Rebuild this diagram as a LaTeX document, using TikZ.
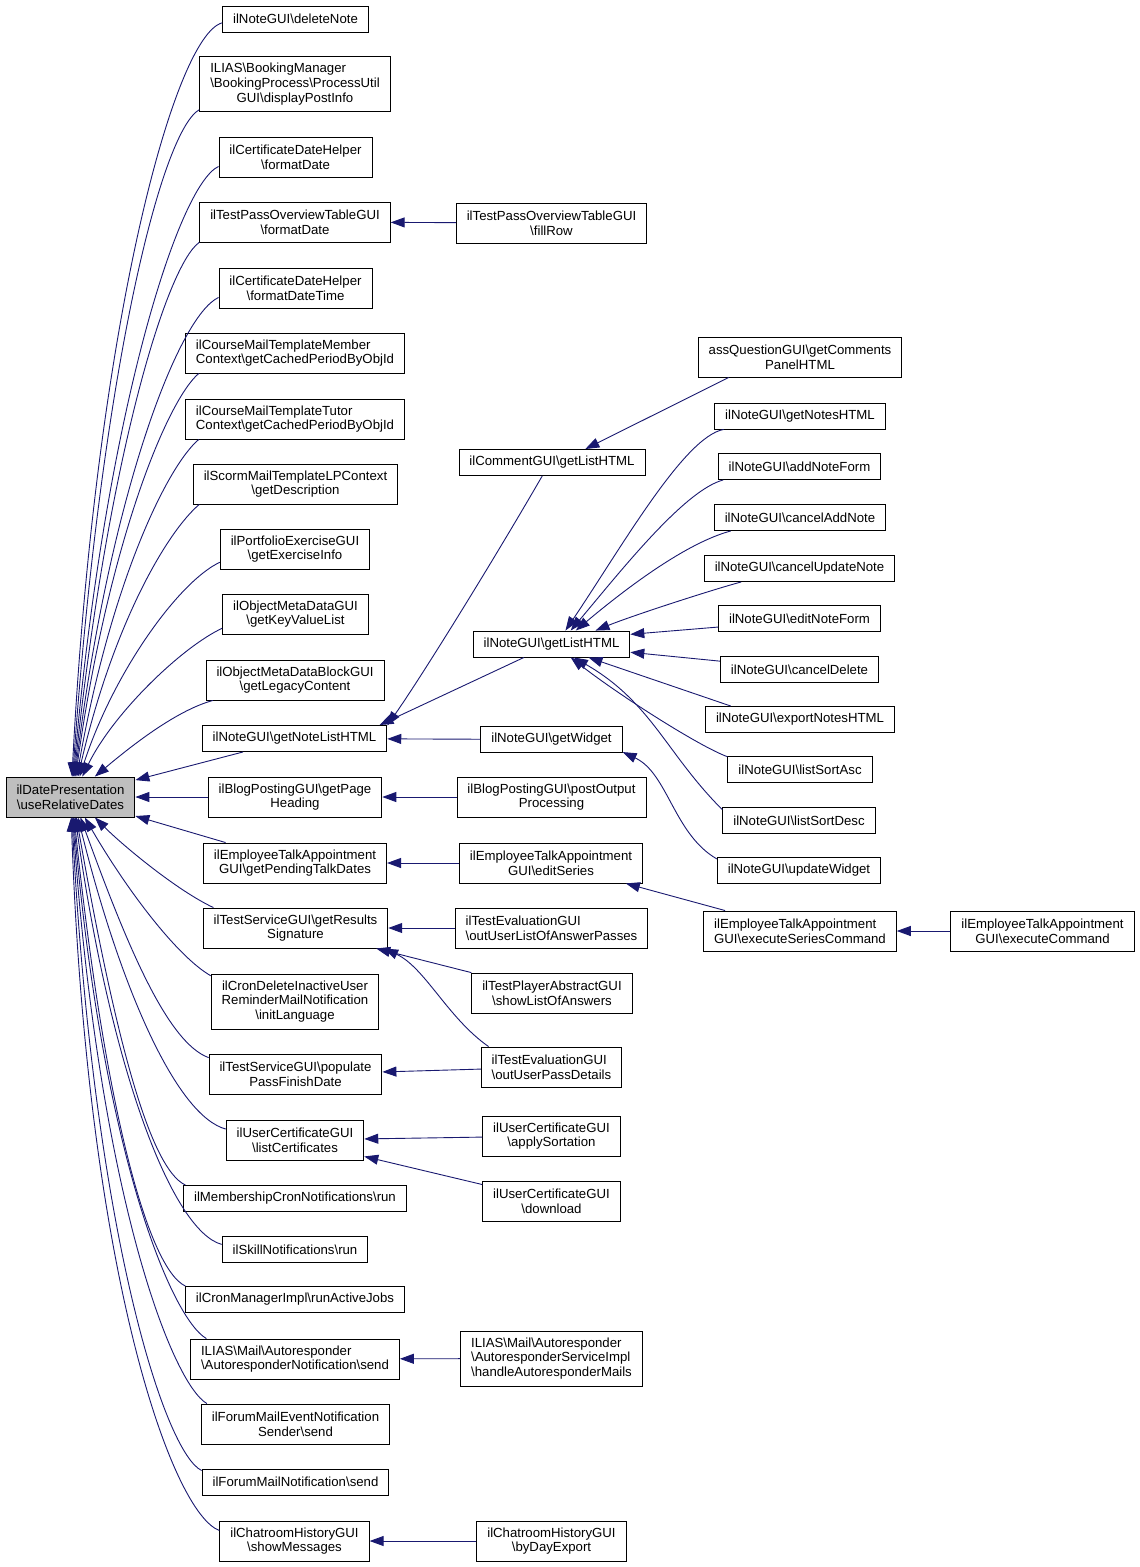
\documentclass[tikz,border=0pt]{standalone}
\usepackage{fontspec}
\setmainfont{Liberation Sans}
\usetikzlibrary{arrows.meta}
\definecolor{edgeblue}{HTML}{191970}
\definecolor{rootgray}{HTML}{BFBFBF}
\newcommand{\bsl}{\textbackslash}

\begin{document}
\begin{tikzpicture}[x=1pt, y=1pt,
    fn/.style={draw, line width=0.9pt, fill=white, align=center, inner xsep=10.5pt, inner ysep=2pt,
      minimum height=26pt, font=\fontsize{13.2}{14.6}\selectfont},
    fn2/.style={fn, minimum height=40pt},
    fn3/.style={fn, minimum height=55pt},
    call/.style={draw=edgeblue, line width=0.9pt, -{Triangle[length=14pt, width=10pt]}}]
    \useasboundingbox (0,0) rectangle (1140,-1567);

    % root
    \node[fn2, fill=rootgray] (root) at (70.5,-797) {ilDatePresentation\\\bsl useRelativeDates};

    % callers, column 2
    \node[fn] (deleteNote) at (295.5,-19) {ilNoteGUI\bsl deleteNote};
    \node[fn3] (displayPostInfo) at (295,-84) {\rlap{ILIAS\bsl BookingManager}\phantom{\bsl BookingProcess\bsl ProcessUtil}\\\bsl BookingProcess\bsl ProcessUtil\\GUI\bsl displayPostInfo};
    \node[fn2] (certDate) at (295.5,-157) {ilCertificateDateHelper\\\bsl formatDate};
    \node[fn2] (passDate) at (295,-222) {ilTestPassOverviewTableGUI\\\bsl formatDate};
    \node[fn2] (certDateTime) at (295.5,-288) {ilCertificateDateHelper\\\bsl formatDateTime};
    \node[fn2, align=left] (memberCtx) at (295,-353) {ilCourseMailTemplateMember\\Context\bsl getCachedPeriodByObjId};
    \node[fn2, align=left] (tutorCtx) at (295,-419) {ilCourseMailTemplateTutor\\Context\bsl getCachedPeriodByObjId};
    \node[fn2] (scormDesc) at (295.5,-484) {ilScormMailTemplateLPContext\\\bsl getDescription};
    \node[fn2] (exerciseInfo) at (295,-549) {ilPortfolioExerciseGUI\\\bsl getExerciseInfo};
    \node[fn2] (keyValue) at (295.5,-614) {ilObjectMetaDataGUI\\\bsl getKeyValueList};
    \node[fn2] (legacyContent) at (295,-680) {ilObjectMetaDataBlockGUI\\\bsl getLegacyContent};
    \node[fn] (noteListHTML) at (294.5,-738.5) {ilNoteGUI\bsl getNoteListHTML};
    \node[fn2] (pageHeading) at (295,-797) {ilBlogPostingGUI\bsl getPage\\Heading};
    \node[fn2] (pendingTalk) at (295,-863) {ilEmployeeTalkAppointment\\GUI\bsl getPendingTalkDates};
    \node[fn2] (resultsSig) at (295.5,-928) {ilTestServiceGUI\bsl getResults\\Signature};
    \node[fn3] (initLanguage) at (295,-1001.5) {ilCronDeleteInactiveUser\\ReminderMailNotification\\\bsl initLanguage};
    \node[fn2] (passFinish) at (295.5,-1074.5) {ilTestServiceGUI\bsl populate\\PassFinishDate};
    \node[fn2] (listCert) at (295,-1140) {ilUserCertificateGUI\\\bsl listCertificates};
    \node[fn] (membershipRun) at (295,-1198.5) {ilMembershipCronNotifications\bsl run};
    \node[fn] (skillRun) at (295,-1249.5) {ilSkillNotifications\bsl run};
    \node[fn] (activeJobs) at (295,-1299.5) {ilCronManagerImpl\bsl runActiveJobs};
    \node[fn2, align=left] (autoSend) at (295,-1359) {ILIAS\bsl Mail\bsl Autoresponder\\\bsl AutoresponderNotification\bsl send};
    \node[fn2] (eventSend) at (295.5,-1424) {ilForumMailEventNotification\\Sender\bsl send};
    \node[fn] (forumSend) at (295.5,-1482) {ilForumMailNotification\bsl send};
    \node[fn2] (showMessages) at (294.5,-1541) {ilChatroomHistoryGUI\\\bsl showMessages};

    % column 3
    \node[fn2] (fillRow) at (551.5,-223) {ilTestPassOverviewTableGUI\\\bsl fillRow};
    \node[fn] (commentList) at (552,-462.5) {ilCommentGUI\bsl getListHTML};
    \node[fn] (noteList) at (551.5,-644) {ilNoteGUI\bsl getListHTML};
    \node[fn] (getWidget) at (551.5,-739.5) {ilNoteGUI\bsl getWidget};
    \node[fn2] (postOutput) at (551.5,-797) {ilBlogPostingGUI\bsl postOutput\\Processing};
    \node[fn2] (editSeries) at (551,-863) {ilEmployeeTalkAppointment\\GUI\bsl editSeries};
    \node[fn2, align=left] (answerPasses) at (551.5,-928) {ilTestEvaluationGUI\\\bsl outUserListOfAnswerPasses};
    \node[fn2] (listOfAnswers) at (552,-993) {ilTestPlayerAbstractGUI\\\bsl showListOfAnswers};
    \node[fn2, align=left] (passDetails) at (551.5,-1067) {ilTestEvaluationGUI\\\bsl outUserPassDetails};
    \node[fn2] (applySortation) at (551.5,-1136) {ilUserCertificateGUI\\\bsl applySortation};
    \node[fn2] (download) at (551.5,-1201) {ilUserCertificateGUI\\\bsl download};
    \node[fn3, align=left] (handleMails) at (551.5,-1358.5) {ILIAS\bsl Mail\bsl Autoresponder\\\bsl AutoresponderServiceImpl\\\bsl handleAutoresponderMails};
    \node[fn2] (byDayExport) at (551.5,-1541) {ilChatroomHistoryGUI\\\bsl byDayExport};

    % column 4 and 5
    \node[fn2] (commentsPanel) at (800,-357) {assQuestionGUI\bsl getComments\\PanelHTML};
    \node[fn] (notesHTML) at (800,-416) {ilNoteGUI\bsl getNotesHTML};
    \node[fn] (addNoteForm) at (799.5,-466.5) {ilNoteGUI\bsl addNoteForm};
    \node[fn] (cancelAdd) at (800,-517.5) {ilNoteGUI\bsl cancelAddNote};
    \node[fn] (cancelUpdate) at (799.5,-568.5) {ilNoteGUI\bsl cancelUpdateNote};
    \node[fn] (editNoteForm) at (799.5,-618.5) {ilNoteGUI\bsl editNoteForm};
    \node[fn] (cancelDelete) at (799.5,-669.5) {ilNoteGUI\bsl cancelDelete};
    \node[fn] (exportNotes) at (800,-719.5) {ilNoteGUI\bsl exportNotesHTML};
    \node[fn] (sortAsc) at (800,-769.5) {ilNoteGUI\bsl listSortAsc};
    \node[fn] (sortDesc) at (799,-820.5) {ilNoteGUI\bsl listSortDesc};
    \node[fn] (updateWidget) at (799,-870.5) {ilNoteGUI\bsl updateWidget};
    \node[fn2, align=left] (seriesCommand) at (800,-931) {ilEmployeeTalkAppointment\\GUI\bsl executeSeriesCommand};
    \node[fn2] (executeCommand) at (1042.5,-931) {ilEmployeeTalkAppointment\\GUI\bsl executeCommand};

    % calls into the root, upper half
    \draw[call] (deleteNote.183) to[out=195, in=87, out distance=50pt, in distance=450pt] (root.86);
    \draw[call] (displayPostInfo.195) to[out=210, in=86, out distance=45pt, in distance=400pt] (root.84);
    \draw[call] (certDate.187) to[out=205, in=85, out distance=45pt, in distance=360pt] (root.82);
    \draw[call] (passDate.192) to[out=215, in=84, out distance=40pt, in distance=320pt] (root.80);
    \draw[call] (certDateTime.187) to[out=205, in=83, out distance=45pt, in distance=280pt] (root.78);
    \draw[call] (memberCtx.192) to[out=220, in=82, out distance=40pt, in distance=240pt] (root.76);
    \draw[call] (tutorCtx.192) to[out=220, in=80, out distance=40pt, in distance=200pt] (root.73);
    \draw[call] (scormDesc.192) to[out=220, in=77, out distance=40pt, in distance=160pt] (root.70);
    \draw[call] (exerciseInfo.190) to[out=205, in=72, out distance=45pt, in distance=110pt] (root.66);
    \draw[call] (keyValue.191) to[out=205, in=64, out distance=45pt, in distance=70pt] (root.60);
    \draw[call] (legacyContent.194) to[out=195, in=40, out distance=40pt, in distance=40pt] (root.40);
    \draw[call] (noteListHTML) -- (root);

    % calls into the root, lower half
    \draw[call] (pageHeading) -- (root);
    \draw[call] (pendingTalk) -- (root);
    \draw[call] (resultsSig.166) to[out=155, in=-45, out distance=40pt, in distance=40pt] (root.320);
    \draw[call] (initLanguage.163) to[out=150, in=-60, out distance=40pt, in distance=80pt] (root.305);
    \draw[call] (passFinish.169) to[out=160, in=-70, out distance=45pt, in distance=130pt] (root.296);
    \draw[call] (listCert.171) to[out=165, in=-76, out distance=50pt, in distance=180pt] (root.290);
    \draw[call] (membershipRun.173) to[out=155, in=-80, out distance=40pt, in distance=220pt] (root.286);
    \draw[call] (skillRun.176) to[out=165, in=-82, out distance=50pt, in distance=260pt] (root.283);
    \draw[call] (activeJobs.173) to[out=155, in=-84, out distance=40pt, in distance=300pt] (root.280);
    \draw[call] (autoSend.167) to[out=150, in=-85, out distance=40pt, in distance=340pt] (root.278);
    \draw[call] (eventSend.167) to[out=150, in=-86, out distance=40pt, in distance=380pt] (root.276);
    \draw[call] (forumSend.173) to[out=155, in=-87, out distance=40pt, in distance=420pt] (root.274);
    \draw[call] (showMessages.172) to[out=160, in=-88, out distance=50pt, in distance=460pt] (root.272);

    % column 3 into column 2
    \draw[call] (fillRow) -- (passDate);
    \draw[call] (commentList.234) to[out=240, in=55, out distance=100pt, in distance=60pt] (noteListHTML.8);
    \draw[call] (noteList.206) -- (noteListHTML.9);
    \draw[call] (getWidget) -- (noteListHTML);
    \draw[call] (postOutput) -- (pageHeading);
    \draw[call] (editSeries) -- (pendingTalk);
    \draw[call] (answerPasses) -- (resultsSig);
    \draw[call] (listOfAnswers) -- (resultsSig);
    \draw[call] (passDetails.162) to[out=145, in=-25, out distance=50pt, in distance=45pt] (resultsSig.347);
    \draw[call] (passDetails) -- (passFinish);
    \draw[call] (applySortation) -- (listCert);
    \draw[call] (download) -- (listCert);
    \draw[call] (handleMails) -- (autoSend);
    \draw[call] (byDayExport) -- (showMessages);

    % column 4 into column 3
    \draw[call] (commentsPanel.196) -- (commentList.22);
    \draw[call] (notesHTML.190) to[out=190, in=56, out distance=40pt, in distance=100pt] (noteList.44);
    \draw[call] (addNoteForm.190) to[out=195, in=50, out distance=40pt, in distance=80pt] (noteList.35);
    \draw[call] (cancelAdd.191) to[out=195, in=40, out distance=45pt, in distance=70pt] (noteList.29);
    \draw[call] (cancelUpdate.193) to[out=195, in=22, out distance=30pt, in distance=40pt] (noteList.17);
    \draw[call] (editNoteForm.186) -- (noteList.7);
    \draw[call] (cancelDelete.174) -- (noteList.354);
    \draw[call] (exportNotes.169) -- (noteList.340);
    \draw[call] (sortAsc.170) to[out=160, in=-38, out distance=30pt, in distance=60pt] (noteList.325);
    \draw[call] (sortDesc.172) to[out=135, in=-30, out distance=80pt, in distance=90pt] (noteList.329);
    \draw[call] (updateWidget.172) to[out=150, in=-25, out distance=50pt, in distance=50pt] (getWidget.350);
    \draw[call] (seriesCommand) -- (editSeries);
    \draw[call] (executeCommand) -- (seriesCommand);
\end{tikzpicture}
\end{document}
